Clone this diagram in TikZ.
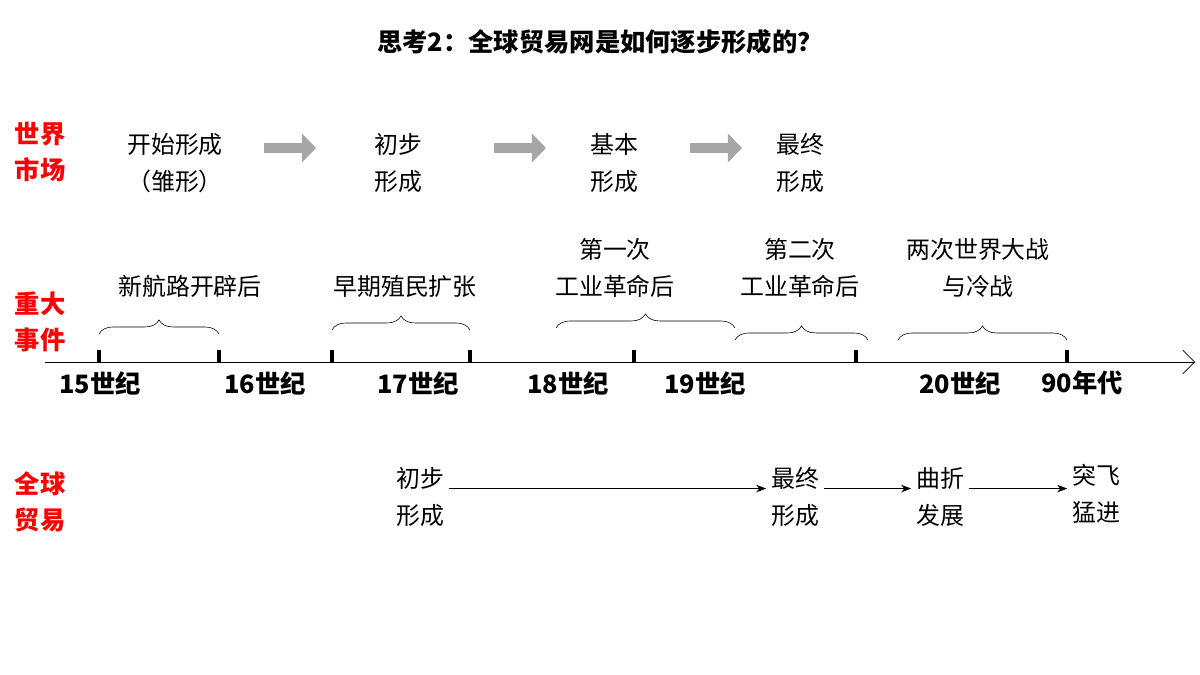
\documentclass[tikz,border=0pt]{standalone}
\usepackage{fontspec}
\setmainfont{Noto Sans CJK SC}
\usepackage{tikz}
\usetikzlibrary{arrows.meta,positioning,decorations.pathreplacing}
\definecolor{labelred}{RGB}{255,0,0}
\definecolor{arrowgray}{RGB}{166,166,166}

\begin{document}
\begin{tikzpicture}[x=0.025cm, y=-0.025cm,
  txt/.style={align=center, font=\fontsize{17}{26}\selectfont},
  side/.style={align=center, text=labelred, font=\fontsize{18}{26}\selectfont\bfseries},
  year/.style={font=\fontsize{18}{20}\selectfont\bfseries},
  bigarr/.style={line width=7pt, arrowgray, -{Triangle[length=10pt, width=20pt]}},
  thinarr/.style={-{Stealth[length=2.5mm]}, thin},
  brc/.style={decorate, decoration={brace, amplitude=10pt}, thin},
  tick/.style={line width=2.5pt}
]
  \useasboundingbox (0,0) rectangle (1200,675);

  \node[font=\fontsize{18}{20}\selectfont\bfseries] (title) at (600,42) {思考2：全球贸易网是如何逐步形成的？};

  % left labels
  \node[side] (l1) at (40,152) {世界\\市场};
  \node[side] (l2) at (40,322) {重大\\事件};
  \node[side] (l3) at (40,502) {全球\\贸易};

  % world market
  \node[txt] (m1) at (175,163) {开始形成\\（雏形）};
  \node[txt] (m2) at (398,163) {初步\\形成};
  \node[txt] (m3) at (614,163) {基本\\形成};
  \node[txt] (m4) at (800,163) {最终\\形成};
  \coordinate (a1) at (264,148); \coordinate (b1) at (316,148);
  \coordinate (a2) at (494,148); \coordinate (b2) at (546,148);
  \coordinate (a3) at (690,148); \coordinate (b3) at (742,148);
  \draw[bigarr] (a1) -- (b1);
  \draw[bigarr] (a2) -- (b2);
  \draw[bigarr] (a3) -- (b3);

  % timeline
  \coordinate (t0) at (45,362); \coordinate (t1) at (1195,362);
  \draw[-{Straight Barb[length=3mm]}] (t0) -- (t1);
  \foreach \x in {99,219,332,470,634,856,1067}
    \draw[tick] (\x,350) -- (\x,362);

  \draw[brc] (99,334) -- (219,334);
  \draw[brc] (332,330) -- (470,330);
  \draw[brc] (556,328) -- (735,328);
  \draw[brc] (735,340) -- (868,340);
  \draw[brc] (898,340) -- (1067,340);

  \node[txt] (e1) at (190,286) {新航路开辟后};
  \node[txt] (e2) at (405,286) {早期殖民扩张};
  \node[txt] (e3) at (615,268) {第一次\\工业革命后};
  \node[txt] (e4) at (800,268) {第二次\\工业革命后};
  \node[txt] (e5) at (978,268) {两次世界大战\\与冷战};

  \node[year] (y15) at (100,383) {15世纪};
  \node[year] (y16) at (265,383) {16世纪};
  \node[year] (y17) at (418,383) {17世纪};
  \node[year] (y18) at (568,383) {18世纪};
  \node[year] (y19) at (705,383) {19世纪};
  \node[year] (y20) at (960,383) {20世纪};
  \node[year] (y90) at (1082,383) {90年代};

  % global trade
  \node[txt] (g1) at (420,497) {初步\\形成};
  \node[txt] (g2) at (795,497) {最终\\形成};
  \node[txt] (g3) at (940,497) {曲折\\发展};
  \node[txt] (g4) at (1096,494) {突飞\\猛进};
  \draw[thinarr] ([yshift=6pt]g1.east) -- ([yshift=6pt]g2.west);
  \draw[thinarr] ([yshift=6pt]g2.east) -- ([yshift=6pt]g3.west);
  \draw[thinarr] ([yshift=6pt]g3.east) -- ([yshift=6pt]g3.east -| g4.west);
\end{tikzpicture}
\end{document}
